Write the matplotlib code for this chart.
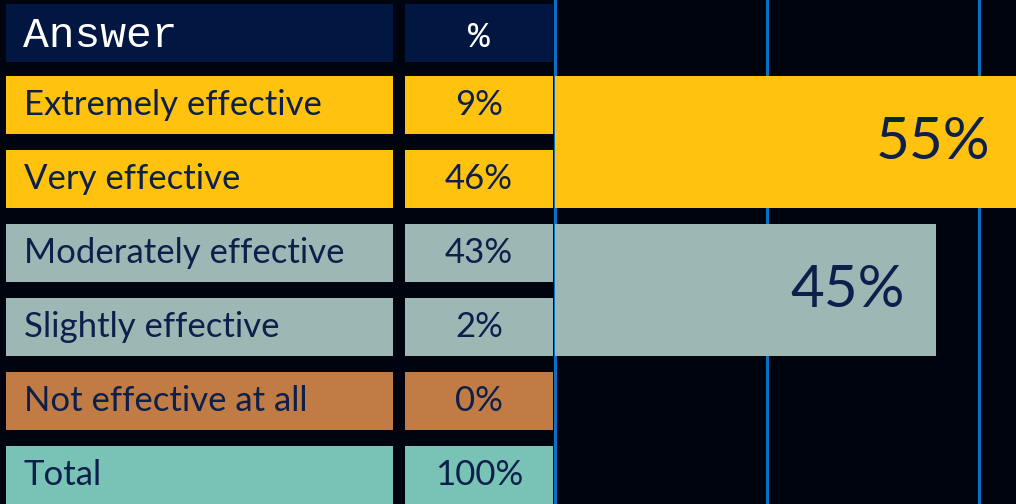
import matplotlib
matplotlib.use("Agg")
import matplotlib.pyplot as plt

# === Daten ===
answers = ["Extremely effective", "Very effective", "Moderately effective",
           "Slightly effective", "Not effective at all", "Total"]
pcts = [9, 46, 43, 2, 0, 100]
row_colors = ["#ffc20e", "#ffc20e", "#9db7b4", "#9db7b4", "#c17c45", "#78c3b5"]

headers = ["Answer", "%"]

# zusammengefasste Balken (Zeilen 1-2 und 3-4)
group_vals = [55, 45]
group_rows = [(1, 2), (3, 4)]
group_colors = ["#ffc20e", "#9db7b4"]

# === Farben ===
bg = "#00040f"
head_bg = "#011640"
text_col = "#0d1f4b"
grid_col = "#0a70c6"

W, H = 1016, 504
fig = plt.figure(figsize=(W / 100, H / 100), dpi=100, facecolor=bg)

# Tabelle links (x in Pixel-Layout), Balken rechts (x in Prozent)
ax_tab = fig.add_axes([0, 0, 553 / W, 1])
ax_bar = fig.add_axes([540 / W, 0, (W - 540) / W, 1], sharey=ax_tab)

for ax in (ax_tab, ax_bar):
    ax.set_facecolor("none")
    for s in ax.spines.values():
        s.set_visible(False)
    ax.tick_params(left=False, bottom=False, labelleft=False, labelbottom=False)

ax_tab.set_xlim(0, 553)
ax_tab.set_ylim(6.392, -0.419)

px_per_pct = 8.48
ax_bar.set_xlim(-14.5 / px_per_pct, (W - 554.5) / px_per_pct)

# Spalten-Layout
col_left = [6, 405]
col_width = [387, 148]
row_h = 0.785
head_y = 0.027
base_off = 0.135   # Grundlinie unter Zellmitte

# Kopfzeile
for j, h in enumerate(headers):
    ax_tab.barh(head_y, col_width[j], left=col_left[j], height=row_h, color=head_bg)
ax_tab.text(col_left[0] + 17, head_y + 0.19, headers[0], ha="left", va="baseline",
            color="white", fontsize=31, family="Liberation Mono")
ax_tab.text(col_left[1] + col_width[1] / 2, head_y + 0.19, headers[1], ha="center",
            va="baseline", color="white", fontsize=26, family="Liberation Mono")

# Datenzeilen
for i, (a, p, c) in enumerate(zip(answers, pcts, row_colors)):
    y = i + 1
    for j in range(2):
        ax_tab.barh(y, col_width[j], left=col_left[j], height=row_h, color=c)
    ax_tab.text(col_left[0] + 18, y + base_off, a, ha="left", va="baseline",
                color=text_col, fontsize=25, family="Lato")
    ax_tab.text(col_left[1] + col_width[1] / 2, y + base_off, f"{p}%", ha="center",
                va="baseline", color=text_col, fontsize=25, family="Lato")

# Gitterlinien
for gx in [0, 25, 50]:
    ax_bar.axvline(gx, color=grid_col, lw=2.2, zorder=0)

# Gruppenbalken
for v, (r0, r1), c in zip(group_vals, group_rows, group_colors):
    yc = (r0 + r1) / 2
    ax_bar.barh(yc, v, left=0, height=(r1 - r0) + row_h, color=c, zorder=2)
    ax_bar.text(v - 31 / px_per_pct, yc + 0.235, f"{v}%", ha="right", va="baseline",
                color=text_col, fontsize=42, family="Lato", zorder=3)

plt.savefig("out.png", dpi=100, facecolor=bg)
